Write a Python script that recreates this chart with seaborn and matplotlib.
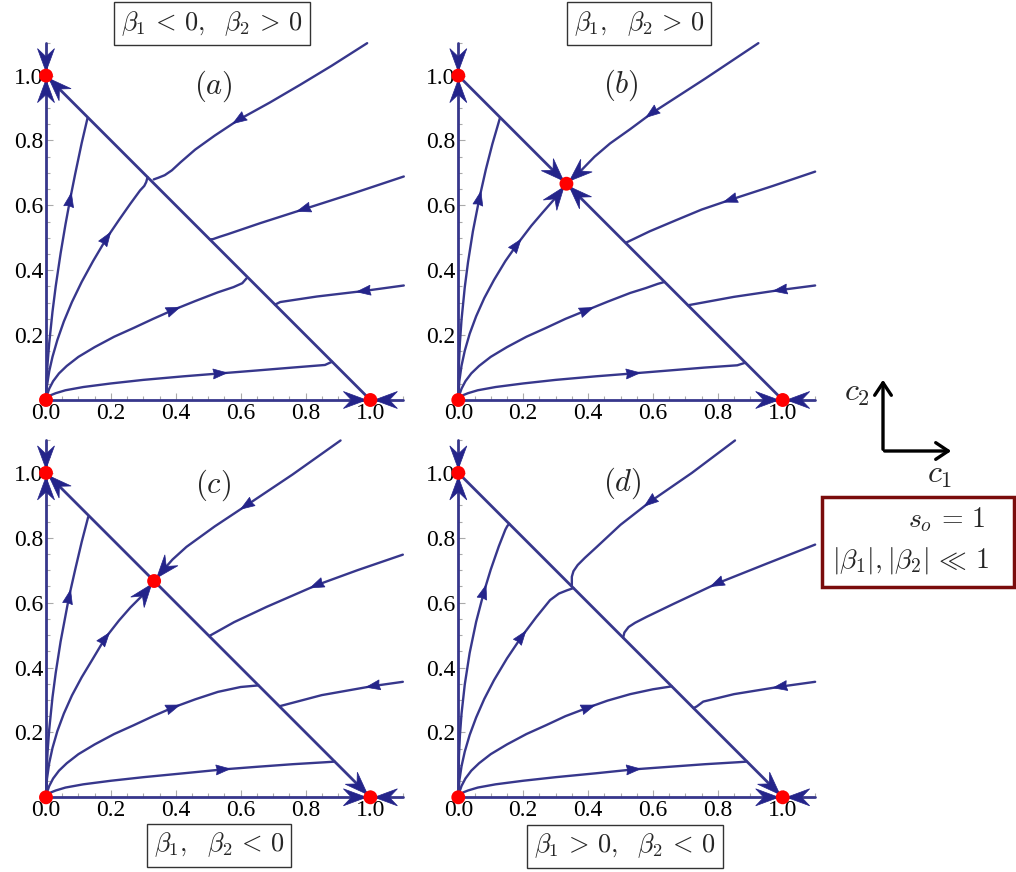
import numpy as np
import matplotlib
matplotlib.use("Agg")
import matplotlib.pyplot as plt
import seaborn as sns
from matplotlib.patches import Polygon, Rectangle, FancyArrowPatch
from matplotlib.ticker import MultipleLocator

sns.set_theme(style="white")
plt.rcParams["font.family"] = ["Liberation Serif", "DejaVu Serif"]
plt.rcParams["mathtext.fontset"] = "cm"

LINE = "#37378c"
HEAD = "#24248a"
DOT = "#ff0000"
TICKFONT = "Liberation Serif"

# axis trajectories (shared by all panels), flow towards the fixed points
axis_x = [[0.0, 1.0], [1.1, 1.0], [0.0, 0.0], [0.0, 0.0]]
axis_y = [[0.0, 0.0], [0.0, 0.0], [0.0, 1.0], [1.1, 1.0]]

# ---- panel (a): beta1 < 0, beta2 > 0
a_x = [
    [1.0, 0.0],
    [0.0, 0.002, 0.005, 0.01, 0.02, 0.03, 0.045, 0.06, 0.074, 0.09, 0.11, 0.128],
    [0.0, 0.003, 0.01, 0.02, 0.035, 0.055, 0.08, 0.11, 0.145, 0.187, 0.225, 0.26, 0.29, 0.303, 0.309, 0.313],
    [0.99, 0.88, 0.784, 0.69, 0.594, 0.52, 0.46, 0.415, 0.388, 0.366, 0.346, 0.332],
    [1.103, 0.95, 0.794, 0.66, 0.56, 0.535, 0.515, 0.505],
    [0.0, 0.003, 0.01, 0.022, 0.04, 0.064, 0.10, 0.15, 0.21, 0.27, 0.33, 0.393, 0.46, 0.53, 0.578, 0.605, 0.62],
    [1.103, 0.979, 0.835, 0.722, 0.706],
    [0.0, 0.005, 0.015, 0.03, 0.06, 0.115, 0.20, 0.30, 0.424, 0.537, 0.65, 0.76, 0.86, 0.882],
]
a_y = [
    [0.0, 1.0],
    [0.0, 0.064, 0.114, 0.176, 0.272, 0.351, 0.452, 0.541, 0.617, 0.697, 0.792, 0.869],
    [0.0, 0.044, 0.089, 0.133, 0.185, 0.242, 0.302, 0.364, 0.428, 0.499, 0.555, 0.605, 0.646, 0.66, 0.672, 0.687],
    [1.10, 1.03, 0.972, 0.917, 0.864, 0.815, 0.772, 0.733, 0.708, 0.693, 0.685, 0.680],
    [0.689, 0.638, 0.588, 0.545, 0.511, 0.503, 0.496, 0.495],
    [0.0, 0.015, 0.035, 0.058, 0.082, 0.105, 0.133, 0.163, 0.195, 0.222, 0.25, 0.278, 0.305, 0.332, 0.348, 0.36, 0.377],
    [0.353, 0.336, 0.319, 0.302, 0.294],
    [0.0, 0.007, 0.015, 0.021, 0.030, 0.040, 0.051, 0.062, 0.073, 0.082, 0.091, 0.100, 0.108, 0.118],
]
a_arrow = [None, 8, 9, 4, 2, 11, 1, 9]
a_big = [True, False, False, False, False, False, False, False]
a_fixed_x = [0.0, 1.0, 0.0]
a_fixed_y = [0.0, 0.0, 1.0]

# ---- panel (b): beta1, beta2 > 0
b_x = [
    [0.0, 0.3333],
    [1.0, 0.3333],
    [0.0, 0.002, 0.005, 0.01, 0.02, 0.03, 0.045, 0.065, 0.085, 0.105, 0.128],
    [0.0, 0.003, 0.01, 0.02, 0.035, 0.055, 0.08, 0.11, 0.145, 0.18, 0.225, 0.26, 0.303, 0.3333],
    [0.925, 0.76, 0.596, 0.53, 0.468, 0.42, 0.38, 0.3333],
    [1.10, 0.97, 0.838, 0.75, 0.673, 0.59, 0.517],
    [0.0, 0.003, 0.01, 0.022, 0.04, 0.064, 0.10, 0.15, 0.21, 0.27, 0.33, 0.396, 0.46, 0.53, 0.578, 0.615, 0.636],
    [1.10, 0.992, 0.85, 0.708],
    [0.0, 0.005, 0.015, 0.03, 0.06, 0.115, 0.20, 0.30, 0.424, 0.539, 0.65, 0.76, 0.86, 0.885],
]
b_y = [
    [1.0, 0.6667],
    [0.0, 0.6667],
    [0.0, 0.112, 0.177, 0.248, 0.348, 0.425, 0.52, 0.622, 0.711, 0.789, 0.868],
    [0.0, 0.057, 0.106, 0.152, 0.204, 0.258, 0.314, 0.37, 0.428, 0.478, 0.537, 0.578, 0.627, 0.6667],
    [1.10, 0.99, 0.884, 0.835, 0.791, 0.75, 0.709, 0.6667],
    [0.704, 0.66, 0.617, 0.587, 0.555, 0.52, 0.485],
    [0.0, 0.015, 0.035, 0.058, 0.082, 0.105, 0.133, 0.163, 0.195, 0.222, 0.25, 0.277, 0.303, 0.33, 0.345, 0.358, 0.364],
    [0.353, 0.339, 0.318, 0.292],
    [0.0, 0.007, 0.015, 0.021, 0.030, 0.040, 0.051, 0.062, 0.073, 0.082, 0.091, 0.100, 0.107, 0.115],
]
b_arrow = [None, None, 7, 9, 2, 2, 11, 1, 9]
b_big = [True, True, False, True, True, False, False, False, False]
b_fixed_x = [0.0, 1.0, 0.0, 0.3333]
b_fixed_y = [0.0, 0.0, 1.0, 0.6667]

# ---- panel (c): beta1, beta2 < 0
c_x = [
    [0.3333, 0.0],
    [0.3333, 1.0],
    [0.0, 0.002, 0.005, 0.01, 0.02, 0.03, 0.045, 0.071, 0.09, 0.11, 0.13],
    [0.0, 0.003, 0.01, 0.02, 0.035, 0.055, 0.08, 0.11, 0.145, 0.182, 0.225, 0.26, 0.303, 0.3333],
    [0.908, 0.76, 0.618, 0.52, 0.433, 0.39, 0.361, 0.3333],
    [1.10, 0.96, 0.834, 0.68, 0.58, 0.503],
    [0.0, 0.003, 0.01, 0.022, 0.04, 0.064, 0.10, 0.15, 0.21, 0.27, 0.33, 0.392, 0.46, 0.53, 0.60, 0.655],
    [1.10, 1.008, 0.85, 0.721],
    [0.0, 0.005, 0.015, 0.03, 0.06, 0.115, 0.20, 0.30, 0.424, 0.546, 0.65, 0.76, 0.86, 0.89],
]
c_y = [
    [0.6667, 1.0],
    [0.6667, 0.0],
    [0.0, 0.086, 0.142, 0.21, 0.308, 0.384, 0.48, 0.618, 0.702, 0.787, 0.864],
    [0.0, 0.057, 0.106, 0.152, 0.204, 0.258, 0.314, 0.37, 0.428, 0.49, 0.545, 0.585, 0.628, 0.6667],
    [1.10, 0.995, 0.90, 0.835, 0.772, 0.733, 0.70, 0.6667],
    [0.748, 0.70, 0.654, 0.587, 0.54, 0.497],
    [0.0, 0.015, 0.035, 0.058, 0.082, 0.105, 0.133, 0.163, 0.195, 0.222, 0.25, 0.277, 0.302, 0.325, 0.34, 0.345],
    [0.356, 0.343, 0.315, 0.281],
    [0.0, 0.007, 0.015, 0.021, 0.030, 0.040, 0.051, 0.062, 0.074, 0.086, 0.094, 0.102, 0.108, 0.110],
]
c_arrow = [None, None, 7, 9, 2, 2, 11, 1, 9]
c_big = [True, True, False, True, True, False, False, False, False]
c_fixed_x = [0.0, 1.0, 0.0, 0.3333]
c_fixed_y = [0.0, 0.0, 1.0, 0.6667]

# ---- panel (d): beta1 > 0, beta2 < 0
d_x = [
    [0.0, 1.0],
    [0.0, 0.002, 0.005, 0.01, 0.02, 0.035, 0.055, 0.079, 0.10, 0.125, 0.145, 0.151, 0.157],
    [0.0, 0.003, 0.01, 0.02, 0.035, 0.055, 0.08, 0.11, 0.15, 0.195, 0.24, 0.283, 0.31, 0.335, 0.355],
    [0.853, 0.72, 0.591, 0.50, 0.427, 0.39, 0.368, 0.355, 0.35, 0.35],
    [1.10, 0.95, 0.797, 0.663, 0.58, 0.545, 0.525, 0.512, 0.508],
    [0.0, 0.003, 0.01, 0.022, 0.04, 0.064, 0.10, 0.15, 0.21, 0.27, 0.33, 0.401, 0.46, 0.53, 0.60, 0.658],
    [1.10, 0.992, 0.85, 0.755, 0.735, 0.725],
    [0.0, 0.005, 0.015, 0.03, 0.06, 0.115, 0.20, 0.30, 0.424, 0.54, 0.65, 0.76, 0.86, 0.89],
]
d_y = [
    [1.0, 0.0],
    [0.0, 0.128, 0.191, 0.258, 0.348, 0.445, 0.541, 0.633, 0.702, 0.774, 0.825, 0.836, 0.843],
    [0.0, 0.05, 0.096, 0.141, 0.192, 0.246, 0.303, 0.361, 0.428, 0.495, 0.555, 0.608, 0.628, 0.638, 0.645],
    [1.10, 1.0, 0.911, 0.84, 0.772, 0.738, 0.716, 0.697, 0.68, 0.65],
    [0.779, 0.72, 0.659, 0.596, 0.556, 0.538, 0.525, 0.508, 0.492],
    [0.0, 0.015, 0.035, 0.058, 0.082, 0.105, 0.133, 0.163, 0.195, 0.222, 0.25, 0.277, 0.298, 0.318, 0.333, 0.342],
    [0.356, 0.341, 0.318, 0.295, 0.28, 0.275],
    [0.0, 0.007, 0.015, 0.021, 0.030, 0.040, 0.051, 0.062, 0.074, 0.086, 0.094, 0.102, 0.108, 0.110],
]
d_arrow = [None, 7, 9, 2, 2, 11, 1, 9]
d_big = [True, False, False, False, False, False, False, False]
d_fixed_x = [0.0, 1.0, 0.0]
d_fixed_y = [0.0, 0.0, 1.0]

panels = [
    ("a", a_x, a_y, a_arrow, a_big, a_fixed_x, a_fixed_y),
    ("b", b_x, b_y, b_arrow, b_big, b_fixed_x, b_fixed_y),
    ("c", c_x, c_y, c_arrow, c_big, c_fixed_x, c_fixed_y),
    ("d", d_x, d_y, d_arrow, d_big, d_fixed_x, d_fixed_y),
]
titles = {
    "a": r"$\beta_1 \,<\, 0,\ \ \beta_2 \,>\, 0$",
    "b": r"$\beta_1,\ \ \beta_2 \,>\, 0$",
    "c": r"$\beta_1,\ \ \beta_2 \,<\, 0$",
    "d": r"$\beta_1 \,>\, 0,\ \ \beta_2 \,<\, 0$",
}
# pixel position of each panel origin, and title box centre
origin_px = {"a": (46, 400), "b": (458.3, 400), "c": (46, 797.3), "d": (458.3, 797.3)}
title_px = {"a": (212, 24), "b": (639, 24), "c": (219, 845), "d": (625, 846)}
label_pos = {"a": (0.515, 0.966), "b": (0.50, 0.970), "c": (0.515, 0.963), "d": (0.506, 0.969)}

W, H = 1016, 872
UNIT = 324.4


def head(ax, xa, ya, xb, yb, length, width, notch, tip_shift=0.0, center=False):
    # arrowhead drawn in pixel space, then mapped back to data coords
    p0 = ax.transData.transform((xa, ya))
    p1 = ax.transData.transform((xb, yb))
    d = (p1 - p0) / np.hypot(*(p1 - p0))
    n = np.array([-d[1], d[0]])
    if center:
        tip = p0 + d * length / 2
    else:
        tip = p1 - d * tip_shift
    base = tip - d * length
    pts = np.array([tip, base + n * width / 2, tip - d * length * (1 - notch), base - n * width / 2])
    pts = ax.transData.inverted().transform(pts)
    ax.add_patch(Polygon(pts, closed=True, fc=HEAD, ec=HEAD, lw=0.5, zorder=4, clip_on=False))


fig = plt.figure(figsize=(W / 100, H / 100), dpi=100)

for name, xs, ys, arrows, bigs, fx, fy in panels:
    ox, oy = origin_px[name]
    ax = fig.add_axes([ox / W, (H - oy) / H, 1.1 * UNIT / W, 1.1 * UNIT / H])
    ax.set_xlim(0, 1.1)
    ax.set_ylim(0, 1.1)
    for s in ax.spines.values():
        s.set_visible(False)
    ax.set_xticks([0, 0.2, 0.4, 0.6, 0.8, 1.0])
    ax.set_xticklabels(["0.0", "0.2", "0.4", "0.6", "0.8", "1.0"], fontfamily=TICKFONT, fontsize=17)
    ax.set_yticks([0.2, 0.4, 0.6, 0.8, 1.0])
    ax.set_yticklabels(["0.2", "0.4", "0.6", "0.8", "1.0"], fontfamily=TICKFONT, fontsize=17)
    ax.xaxis.set_minor_locator(MultipleLocator(0.05))
    ax.yaxis.set_minor_locator(MultipleLocator(0.05))
    ax.tick_params(which="both", direction="in", color="#aaaaaa", width=0.8,
                   bottom=True, left=True, top=False, right=False, labelcolor="black")
    ax.tick_params(which="major", length=5, pad=2)
    ax.tick_params(which="minor", length=3)
    ax.patch.set_alpha(0)

    all_x = axis_x + xs
    all_y = axis_y + ys
    all_arrow = [None] * 4 + arrows
    all_big = [True] * 4 + bigs
    for cx, cy, k, big in zip(all_x, all_y, all_arrow, all_big):
        lw = 2.0 if len(cx) == 2 else 1.7
        sns.lineplot(x=cx, y=cy, sort=False, estimator=None, color=LINE, lw=lw,
                     ax=ax, legend=False, clip_on=False, zorder=3)
        if k is not None:
            head(ax, cx[k], cy[k], cx[k + 1], cy[k + 1], 14, 10, 0.08, center=True)
        if big:
            head(ax, cx[-2], cy[-2], cx[-1], cy[-1], 23, 17, 0.35, tip_shift=4)

    sns.scatterplot(x=fx, y=fy, color=DOT, s=100, ax=ax, zorder=6, clip_on=False,
                    edgecolor="none", legend=False)
    lx, ly = label_pos[name]
    ax.text(lx, ly, f"$({name})$", fontsize=22, ha="center", va="center")

    tx, ty = title_px[name]
    fig.text(tx / W, 1 - ty / H, titles[name], fontsize=19, ha="center", va="center",
             bbox=dict(boxstyle="square,pad=0.27", fc="white", ec="#333333", lw=1))

# coordinate key on the right
fig.add_artist(FancyArrowPatch((883 / W, 1 - 452.1 / H), (883 / W, 1 - 377 / H),
                               transform=fig.transFigure,
                               arrowstyle="->,head_length=0.45,head_width=0.3",
                               mutation_scale=20, lw=2.4, color="black"))
fig.add_artist(FancyArrowPatch((881.8 / W, 1 - 451 / H), (954 / W, 1 - 451 / H),
                               transform=fig.transFigure,
                               arrowstyle="->,head_length=0.45,head_width=0.3",
                               mutation_scale=20, lw=2.4, color="black"))
fig.text(857 / W, 1 - 393 / H, "$c_2$", fontsize=23, ha="center", va="center")
fig.text(940 / W, 1 - 476 / H, "$c_1$", fontsize=23, ha="center", va="center")

fig.add_artist(Rectangle((822 / W, 1 - 587 / H), 192 / W, 90 / H, transform=fig.transFigure,
                         fc="white", ec="#7a0c0c", lw=2.5))
fig.text(947 / W, 1 - 520 / H, r"$s_o \,=\, 1$", fontsize=20, ha="center", va="center")
fig.text(911 / W, 1 - 560 / H, r"$|\beta_1|, |\beta_2| \,\ll\, 1$", fontsize=20,
         ha="center", va="center")

fig.savefig("out.png", dpi=100)
